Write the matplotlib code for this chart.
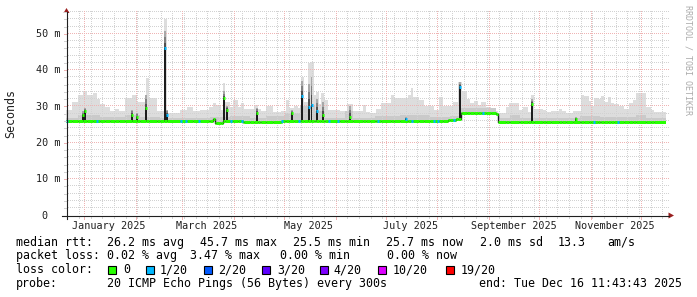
import numpy as np
import matplotlib
matplotlib.use("Agg")
import matplotlib.pyplot as plt
from matplotlib.patches import Rectangle, Polygon
from matplotlib.lines import Line2D
from matplotlib.transforms import blended_transform_factory, offset_copy, IdentityTransform
from datetime import datetime, timedelta

plt.rcParams['font.family'] = ['DejaVu Sans Mono']

W, H, DPI = 697, 297, 100

# ---------------- data ----------------
start = datetime(2024, 12, 21, 11, 43, 43)
SPAN = 360.0  # days shown

# light smoke (upper ping values), step changes at day offsets from start
smoke_day = [0, 3.6, 7.2, 10.2, 12.6, 16.2, 18.6, 20.4, 23.4, 26.4, 29.4, 31.8, 35.4, 39.6, 42.6,
             48.0, 49.8, 54.6, 58.8, 60.6, 68.4, 72.6, 76.2, 80.4, 85.8, 88.2, 90.0, 93.0, 94.2,
             95.4, 98.4, 100.2, 103.2, 105.0, 106.8, 112.8, 115.2, 117.0, 120.0, 124.2, 129.0,
             132.0, 133.8, 136.8, 139.2, 141.0, 142.8, 145.2, 147.0, 148.8, 150.0, 151.8, 153.0,
             154.8, 157.2, 164.4, 168.6, 172.2, 178.2, 180.0, 182.4, 186.0, 189.0, 195.0, 196.8,
             205.2, 207.0, 208.2, 211.8, 214.8, 220.8, 223.8, 226.2, 232.2, 235.2, 237.6, 240.6,
             242.4, 244.8, 247.2, 249.0, 252.0, 255.0, 258.0, 259.2, 264.0, 265.8, 271.8, 274.2,
             277.2, 279.0, 280.8, 286.2, 288.0, 291.0, 295.8, 297.6, 300.0, 304.2, 309.0, 310.8,
             313.8, 315.0, 316.8, 319.2, 321.0, 322.8, 325.2, 327.0, 328.8, 331.8, 334.8, 337.8,
             340.2, 342.0, 348.0, 351.0, 352.8]
smoke_top = [28.9, 31.2, 33.0, 34.2, 33.0, 33.5, 32.0, 30.6, 29.8, 28.7, 29.3, 28.6, 32.2, 33.0, 31.0,
             37.6, 32.2, 28.5, 53.8, 28.2, 28.9, 29.6, 28.7, 28.9, 29.8, 30.7, 30.2, 28.9, 36.2,
             31.2, 29.8, 31.6, 29.8, 30.7, 29.3, 30.3, 29.3, 28.6, 30.0, 28.4, 28.6,
             31.6, 29.5, 30.0, 29.5, 38.1, 31.0, 41.7, 42.2, 33.0, 33.9, 30.5, 33.5,
             31.6, 28.8, 28.5, 30.5, 28.5, 30.2, 28.4, 28.0, 29.3, 30.7, 33.0, 32.1,
             33.0, 34.9, 32.6, 31.7, 29.9, 28.9, 32.6, 29.9, 31.2, 36.7, 34.2, 32.0,
             30.7, 31.5, 30.3, 31.2, 29.8, 29.3, 28.5, 28.0, 29.8, 30.7, 28.9, 29.8,
             28.4, 33.0, 29.3, 28.9, 28.4, 28.6, 29.3, 28.5, 28.0, 28.6, 33.0, 32.7,
             31.5, 30.0, 32.3, 31.8, 32.7, 31.2, 32.5, 30.7, 30.5, 30.0, 29.3, 30.7,
             31.6, 33.5, 29.8, 28.9, 28.4]

# denser smoke band near the median
mid_day = [0, 7.2, 20.4, 35.4, 44.4, 56.4, 86.4, 98.4, 110.4, 120.0, 131.4, 140.4, 149.4, 155.4,
           167.4, 172.2, 185.4, 200.4, 218.4, 230.4, 237.0, 258.0, 266.4, 272.4, 308.4, 320.4,
           342.0, 348.0]
mid_top = [26.8, 27.6, 27.0, 27.6, 27.0, 26.6, 27.0, 27.3, 26.8, 27.2, 28.0, 30.0, 28.5, 26.8,
           28.5, 26.6, 27.2, 27.5, 27.0, 27.3, 29.5, 26.8, 27.4, 26.8, 27.2, 27.0, 27.5, 26.7]

# median rtt (ms), step changes
median_day = [0, 88.2, 89.4, 94.2, 106.2, 116.4, 129.6, 229.2, 234.0, 237.0, 258.0, 259.2]
median_ms = [25.8, 26.3, 25.4, 25.8, 25.6, 25.5, 25.8, 26.1, 26.4, 28.2, 27.7, 25.7]

# short median excursions (spikes)
spike_day = [10.2, 11.4, 39.6, 42.6, 48.0, 59.4, 60.6, 94.8, 96.6, 114.6, 135.6, 141.6, 145.8,
             147.3, 150.6, 154.2, 170.4, 204.0, 236.4, 279.6, 306.0]
spike_ms = [27.4, 28.5, 27.5, 27.0, 29.5, 45.9, 27.5, 32.3, 29.0, 28.2, 28.0, 32.8, 29.8,
            30.4, 28.5, 27.4, 27.0, 26.4, 35.3, 30.5, 26.4]
spike_loss = [0, 0, 0, 0, 0, 1, 1, 0, 0, 0, 0, 1, 1, 1, 1, 0, 0, 1, 1, 0, 0]
spike_haze = [28.5, 29.5, 29.0, 28.0, 33.0, 50.5, 29.0, 34.0, 30.0, 29.5, 29.0, 37.0, 36.0,
              38.0, 32.0, 31.0, 30.0, 27.0, 36.5, 32.0, 27.0]

# bins with packet loss on the median line
loss_day = [0.6, 18.6, 69.0, 72.0, 79.8, 99.0, 105.6, 129.6, 139.8, 157.8, 163.2, 187.2, 207.6,
            220.8, 223.2, 232.8, 250.2, 316.8, 331.2]
loss_idx = [1, 1, 1, 1, 1, 1, 1, 1, 1, 1, 1, 1, 1, 1, 1, 1, 1, 1, 1]

loss_colors = ["#26ff00", "#00b8ff", "#0059ff", "#5e00ff", "#7e00ff", "#dd00ff", "#ff0000"]
loss_labels = ["0", "1/20", "2/20", "3/20", "4/20", "10/20", "19/20"]

y_ticks = [0, 10, 20, 30, 40, 50]
y_tick_labels = ["0", "10 m", "20 m", "30 m", "40 m", "50 m"]
month_labels = ["January 2025", "March 2025", "May 2025", "July 2025", "September 2025", "November 2025"]
label_months = [(2025, 1), (2025, 3), (2025, 5), (2025, 7), (2025, 9), (2025, 11)]

rtt_stats = ["26.2 ms avg", "45.7 ms max", "25.5 ms min", "25.7 ms now", "2.0 ms sd", "13.3", "am/s"]
loss_stats = ["0.02 % avg", "3.47 % max", "0.00 % min", "0.00 % now"]
probe_text = "20 ICMP Echo Pings (56 Bytes) every 300s"
end_text = "end: Tue Dec 16 11:43:43 2025"

assert len(smoke_day) == len(smoke_top)
assert len(mid_day) == len(mid_top)

# ---------------- layout ----------------
PX_MS = 3.634
X0, Y0 = 66, 82          # plot origin in figure pixels (from left / bottom)
PW, PH = 600, 204
PX_DAY = PW / SPAN
fig = plt.figure(figsize=(W / DPI, H / DPI), dpi=DPI)
fig.patch.set_facecolor('white')
ax = fig.add_axes([X0 / W, Y0 / H, PW / W, PH / H])
ax.set_xlim(0, SPAN)
ax.set_ylim(0, PH / PX_MS)
ax.axis('off')


def dnum(dt):
    return (dt - start).total_seconds() / 86400.0


def step_eval(days, vals, x):
    idx = np.searchsorted(np.asarray(days), x, side='right') - 1
    return np.asarray(vals)[np.clip(idx, 0, len(vals) - 1)]


grid = np.unique(np.concatenate([smoke_day, mid_day, median_day, [SPAN]]))
med = step_eval(median_day, median_ms, grid)
top = step_eval(smoke_day, smoke_top, grid)
mid = step_eval(mid_day, mid_top, grid)

ax.fill_between(grid, med - 0.3, np.maximum(top, med), step='post', color='#dddddd', lw=0, zorder=1)
ax.fill_between(grid, med - 0.3, np.maximum(mid, med), step='post', color='#cacaca', lw=0, zorder=1.2)

# ---- dotted grid, drawn pixel by pixel ----
GRID = '#d2d2d2'
MGRID = '#efb4b4'
ymax = PH / PX_MS
ident = IdentityTransform()


def hdots(v, color, z):
    yp = np.floor(Y0 + v * PX_MS) + 0.5
    xs = np.arange(X0 + 1.5, X0 + PW + 2, 2.0)
    ax.add_line(Line2D(xs, np.full_like(xs, yp), ls='none', marker=',', color=color,
                       transform=ident, zorder=z, clip_on=False))


def vdots(d, color, z):
    xp = np.floor(X0 + d * PX_DAY) + 0.5
    ys = np.arange(Y0 + 1.5, Y0 + PH, 2.0)
    ax.add_line(Line2D(np.full_like(ys, xp), ys, ls='none', marker=',', color=color,
                       transform=ident, zorder=z, clip_on=False))


for v in range(2, int(ymax) + 1, 2):
    if v % 10:
        hdots(v, GRID, 2)
for v in range(10, int(ymax) + 1, 10):
    hdots(v, MGRID, 2.2)

xt = blended_transform_factory(ax.transData, fig.transFigure)
yt = blended_transform_factory(fig.transFigure, ax.transData)

d = datetime(2024, 12, 22)
while dnum(d) < SPAN:
    if d.day != 1:
        vdots(dnum(d), GRID, 2.1)
        xp = np.floor(X0 + dnum(d) * PX_DAY) + 0.5
        fig.add_artist(Line2D([xp, xp], [Y0 - 0.5, Y0 - 2.5], transform=ident, color=GRID, lw=0.72))
    d += timedelta(days=7)

for m in range(1, 13):
    x = dnum(datetime(2025, m, 1))
    vdots(x, MGRID, 2.3)
    xp = np.floor(X0 + x * PX_DAY) + 0.5
    fig.add_artist(Line2D([xp, xp], [Y0 - 0.5, Y0 - 3.5], transform=ident, color=MGRID, lw=0.72))

for v in range(2, int(ymax) + 1, 2):
    c = MGRID if v % 10 == 0 else GRID
    yp = np.floor(Y0 + v * PX_MS) + 0.5
    fig.add_artist(Line2D([X0 - 2.5, X0], [yp, yp], transform=ident, color=c, lw=0.72))

# ---- spikes ----
for sd, sm, sl, sh in zip(spike_day, spike_ms, spike_loss, spike_haze):
    base = float(step_eval(median_day, median_ms, np.array([sd]))[0])
    if sh > sm:
        steps = np.linspace(sm, sh, 4)
        for (a, b), c in zip(zip(steps[:-1], steps[1:]), ['#505050', '#808080', '#a8a8a8']):
            ax.bar(sd, b - a, bottom=a, width=1.0, color=c, lw=0, zorder=2.5)
    ax.bar(sd, sm - base, bottom=base, width=1.0, color='#1c1c1c', lw=0, zorder=3)

# ---- median line ----
ax.step(grid, med, where='post', color='#1c1c1c', lw=1.0, zorder=3.5)
for i in range(len(grid) - 1):
    ax.hlines(med[i], grid[i], grid[i + 1], color=loss_colors[0], lw=2.16, zorder=4, capstyle='butt')

for ld, li in zip(loss_day, loss_idx):
    v = float(step_eval(median_day, median_ms, np.array([ld]))[0])
    ax.hlines(v, ld - 0.6, ld + 0.6, color=loss_colors[li], lw=2.16, zorder=5, capstyle='butt')

for sd, sm, sl in zip(spike_day, spike_ms, spike_loss):
    ax.hlines(sm, sd - 0.6, sd + 0.6, color=loss_colors[sl], lw=2.16, zorder=5, capstyle='butt')

# ---- axes lines and arrows ----
AX = '#202020'
ARR = '#9a1f1f'
fig.add_artist(Line2D([66.5 / W, 66.5 / W], [1 - 219 / H, 1 - 12 / H], color=AX, lw=0.8))
fig.add_artist(Line2D([62 / W, 669 / W], [1 - 215.5 / H, 1 - 215.5 / H], color=AX, lw=0.8))
fig.add_artist(Polygon([(63.5 / W, 1 - 13 / H), (69.5 / W, 1 - 13 / H), (66.5 / W, 1 - 8 / H)],
                       closed=True, color=ARR, lw=0))
fig.add_artist(Polygon([(668.5 / W, 1 - 212.5 / H), (668.5 / W, 1 - 218.5 / H), (674 / W, 1 - 215.5 / H)],
                       closed=True, color=ARR, lw=0))

# ---- tick labels ----
AXFS = 7.3
ylab_t = offset_copy(yt, fig=fig, x=0, y=-3.6, units='dots')
for v, s in zip(y_ticks, y_tick_labels):
    if s == "0":
        fig.text(44.5 / W, v, s, transform=ylab_t, ha='center', va='baseline', fontsize=AXFS, color='#202020')
    else:
        fig.text(60.5 / W, v, s, transform=ylab_t, ha='right', va='baseline', fontsize=AXFS, color='#202020')

for (yy, mm), s in zip(label_months, month_labels):
    x = dnum(datetime(yy, mm, 1) + timedelta(days=15))
    fig.text(x, 1 - 228.8 / H, s, transform=xt, ha='center', va='baseline', fontsize=AXFS, color='#202020')

fig.text(11 / W, 1 - 114 / H, "Seconds", rotation=90, ha='center', va='center', fontsize=8.4, color='#202020')
fig.text(688 / W, 1 - 60 / H, "RRDTOOL / TOBI OETIKER", rotation=270, ha='center', va='center',
         fontsize=6.0, color='#ababab')

# ---- legend ----
LFS = 8.4


def ltext(x, y, s):
    fig.text(x / W, 1 - y / H, s, ha='left', va='baseline', fontsize=LFS, color='black')


b1, b2, b3, b4 = 245.6, 259.2, 273.2, 286.8
ltext(16, b1, "median rtt:")
for x, s in zip([107, 200, 293, 386, 480, 558, 607], rtt_stats):
    ltext(x, b1, s)
ltext(16, b2, "packet loss:")
for x, s in zip([107, 190.5, 279.5, 386.5], loss_stats):
    ltext(x, b2, s)
ltext(16, b3, "loss color:")
sq_x = [108, 146, 204, 262, 320, 378, 446]
lab_x = [123, 160, 218, 277, 333, 393, 461]
for sx, lx, c, s in zip(sq_x, lab_x, loss_colors, loss_labels):
    fig.add_artist(Rectangle((sx / W, 1 - 273.5 / H), 8 / W, 8 / H, facecolor=c, edgecolor='black', lw=0.8))
    ltext(lx, b3, s)
ltext(16, b4, "probe:")
ltext(107, b4, probe_text)
ltext(479, b4, end_text)

fig.savefig("out.png", dpi=DPI, facecolor='white')
